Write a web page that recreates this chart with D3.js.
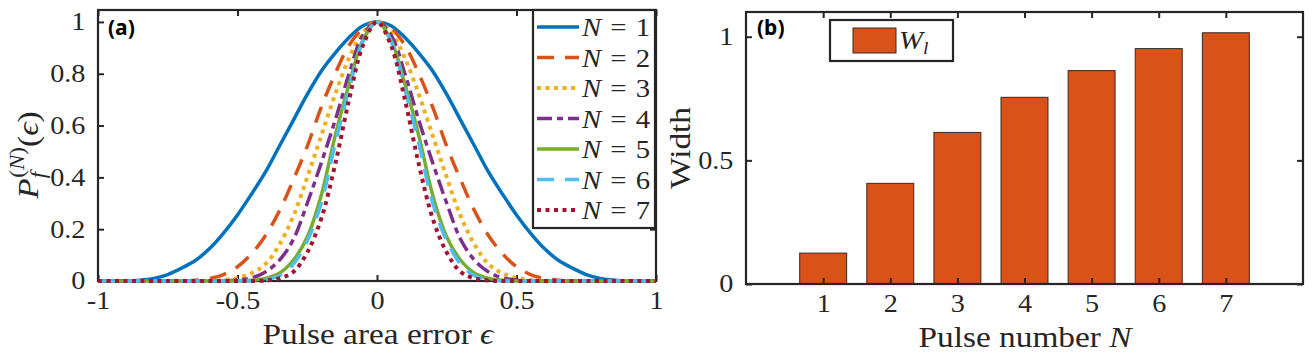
<!DOCTYPE html>
<html>
<head>
<meta charset="utf-8">
<script src="https://cdn.jsdelivr.net/npm/d3@7"></script>
<style>
  body { margin: 0; background: #fff; }
  svg { display: block; }
</style>
</head>
<body>
<svg id="chart" width="1314" height="360"></svg>
<script>
// ---- data ----
var eps = [-1,-0.95,-0.9,-0.85,-0.8,-0.75,-0.7,-0.65,-0.6,-0.55,-0.5,-0.45,-0.4,-0.35,-0.3,-0.25,-0.2,-0.15,-0.1,-0.05,
           0,0.05,0.1,0.15,0.2,0.25,0.3,0.35,0.4,0.45,0.5,0.55,0.6,0.65,0.7,0.75,0.8,0.85,0.9,0.95,1];

var pN1 = [0,0,0,0.003,0.01,0.025,0.05,0.08,0.125,0.185,0.255,0.335,0.42,0.52,0.62,0.72,0.81,0.88,0.94,0.985,
           1,0.985,0.94,0.88,0.81,0.72,0.62,0.52,0.42,0.335,0.255,0.185,0.125,0.08,0.05,0.025,0.01,0.003,0,0,0];
var pN2 = [0,0,0,0,0,0,0,0.003,0.01,0.025,0.055,0.105,0.175,0.27,0.39,0.52,0.67,0.8,0.91,0.975,
           1,0.975,0.91,0.8,0.67,0.52,0.39,0.27,0.175,0.105,0.055,0.025,0.01,0.003,0,0,0,0,0,0,0];
var pN3 = [0,0,0,0,0,0,0,0,0,0.004,0.012,0.03,0.065,0.14,0.25,0.4,0.56,0.72,0.86,0.96,
           1,0.96,0.86,0.72,0.56,0.4,0.25,0.14,0.065,0.03,0.012,0.004,0,0,0,0,0,0,0,0,0];
var pN4 = [0,0,0,0,0,0,0,0,0,0,0.004,0.012,0.035,0.08,0.16,0.3,0.455,0.62,0.8,0.95,
           1,0.95,0.8,0.62,0.455,0.3,0.16,0.08,0.035,0.012,0.004,0,0,0,0,0,0,0,0,0,0];
var pN5 = [0,0,0,0,0,0,0,0,0,0,0,0.003,0.01,0.03,0.08,0.17,0.33,0.56,0.76,0.93,
           1,0.93,0.76,0.56,0.33,0.17,0.08,0.03,0.01,0.003,0,0,0,0,0,0,0,0,0,0,0];
var pN6 = [0,0,0,0,0,0,0,0,0,0,0,0,0.005,0.02,0.065,0.155,0.3,0.53,0.74,0.925,
           1,0.925,0.74,0.53,0.3,0.155,0.065,0.02,0.005,0,0,0,0,0,0,0,0,0,0,0,0];
var pN7 = [0,0,0,0,0,0,0,0,0,0,0,0,0.002,0.01,0.035,0.11,0.24,0.45,0.7,0.91,
           1,0.91,0.7,0.45,0.24,0.11,0.035,0.01,0.002,0,0,0,0,0,0,0,0,0,0,0,0];

var seriesNames = ['1','2','3','4','5','6','7'];
var seriesVals = [pN1,pN2,pN3,pN4,pN5,pN6,pN7];
var colors = ['#0072BD','#D95319','#EDB120','#7E2F8E','#77AC30','#4DBEEE','#A2142F'];
var dashes = [null,'17,11','4,4.5','15,5,6,5',null,'17,11','4,4.5'];

var pulseN = [1,2,3,4,5,6,7];
var widthW = [0.125,0.407,0.613,0.755,0.863,0.952,1.016];

var xTicksA = [-1,-0.5,0,0.5,1];
var yTicksA = [0,0.2,0.4,0.6,0.8,1];
var yTicksB = [0,0.5,1];

// ---- layout ----
var svg = d3.select('#chart');
var ink = '#262626', SX = 1.15, tickFs = 24.5, labFs = 29;
var SERIF = '"Liberation Serif", "Times New Roman", serif';
var SANS = '"Noto Sans", "DejaVu Sans", sans-serif';

function stretch(sel){ sel.attr('transform', 'scale(' + SX + ',1)'); }

function frame(g, x, y, xt, yt, xfmt, yfmt){
  var r = x.range(), b = y.range();
  g.append('g').attr('transform','translate(0,' + b[0] + ')')
    .call(d3.axisBottom(x).tickValues(xt).tickSizeInner(-6).tickSizeOuter(0).tickPadding(11).tickFormat(xfmt));
  g.append('g').attr('transform','translate(0,' + b[1] + ')')
    .call(d3.axisTop(x).tickValues(xt).tickSizeInner(-6).tickSizeOuter(0).tickFormat(''));
  g.append('g').attr('transform','translate(' + r[0] + ',0)')
    .call(d3.axisLeft(y).tickValues(yt).tickSizeInner(-6).tickSizeOuter(0).tickPadding(11).tickFormat(yfmt));
  g.append('g').attr('transform','translate(' + r[1] + ',0)')
    .call(d3.axisRight(y).tickValues(yt).tickSizeInner(-6).tickSizeOuter(0).tickFormat(''));
  g.selectAll('.domain').remove();
  g.selectAll('.tick line').attr('stroke', ink).attr('stroke-width', 2);
  g.selectAll('.tick text').attr('font-size', tickFs).attr('fill', ink)
    .attr('font-family', SERIF).call(stretch);
  g.append('rect').attr('x', r[0]).attr('y', b[1]).attr('width', r[1]-r[0]).attr('height', b[0]-b[1])
    .attr('fill','none').attr('stroke', ink).attr('stroke-width', 2.2);
}

function stext(g, fs, tr){
  return g.append('text').attr('font-family', SERIF).attr('font-size', fs).attr('fill', ink)
    .attr('transform', tr + ' scale(' + SX + ',1)');
}

// ---- panel (a) ----
var xa = d3.scaleLinear().domain([-1,1]).range([98,656]);
var ya = d3.scaleLinear().domain([0,1.046]).range([281,10]);
var ga = svg.append('g');
frame(ga, xa, ya, xTicksA, yTicksA, function(d){ return String(d); }, function(d){ return String(d); });

var line = d3.line().x(function(d,i){ return xa(eps[i]); }).y(function(d){ return ya(Math.max(0, d)); })
  .curve(d3.curveCatmullRom.alpha(0.5));
seriesVals.forEach(function(vals, k){
  ga.append('path').datum(vals).attr('d', line).attr('fill','none')
    .attr('stroke', colors[k]).attr('stroke-width', dashes[k]==='4,4.5' ? 4 : 3.5)
    .attr('stroke-dasharray', dashes[k]);
});

// legend (a)
var lg = ga.append('g');
lg.append('rect').attr('x',533).attr('y',10).attr('width',122).attr('height',218)
  .attr('fill','#fff').attr('stroke', ink).attr('stroke-width',2.2);
seriesNames.forEach(function(n, k){
  var yy = 27 + k*30.5;
  lg.append('line').attr('x1',537).attr('x2',579).attr('y1',yy).attr('y2',yy)
    .attr('stroke', colors[k]).attr('stroke-width', dashes[k]==='4,4.5' ? 4 : 3.5)
    .attr('stroke-dasharray', dashes[k]);
  var t = stext(lg, 25, 'translate(582,' + (yy+9) + ')');
  t.append('tspan').attr('font-style','italic').text('N');
  t.append('tspan').attr('dx',8).text('=');
  t.append('tspan').attr('dx',8).text(n);
});

ga.append('text').attr('x',108).attr('y',35).attr('font-family', SANS)
  .attr('font-weight','bold').attr('font-size',21).attr('fill','#000').text('(a)');

var xl = stext(ga, labFs, 'translate(378,344)').attr('text-anchor','middle');
xl.append('tspan').text('Pulse area error ');
xl.append('tspan').attr('font-style','italic').text('ϵ');

var yl = stext(ga, labFs, 'translate(38,155) rotate(-90)').attr('text-anchor','middle');
yl.append('tspan').attr('font-style','italic').text('P');
yl.append('tspan').attr('font-style','italic').attr('font-size',20).attr('dy',7).text('f');
yl.append('tspan').attr('font-size',20).attr('dx',-5).attr('dy',-21).text('(');
yl.append('tspan').attr('font-size',20).attr('font-style','italic').text('N');
yl.append('tspan').attr('font-size',20).text(')');
yl.append('tspan').attr('dy',14).text('(');
yl.append('tspan').attr('font-style','italic').text('ϵ');
yl.append('tspan').text(')');

// ---- panel (b) ----
var xb = d3.scaleLinear().domain([-0.15,8.15]).range([746,1303]);
var yb = d3.scaleLinear().domain([0,1.1]).range([284,12]);
var gb = svg.append('g');
var bw = (xb(1) - xb(0)) * 0.7;
gb.selectAll('rect.bar').data(pulseN).enter().append('rect').attr('class','bar')
  .attr('x', function(d){ return xb(d) - bw/2; })
  .attr('y', function(d,i){ return yb(widthW[i]); })
  .attr('width', bw)
  .attr('height', function(d,i){ return yb(0) - yb(widthW[i]); })
  .attr('fill','#D95319').attr('stroke','#3a2a22').attr('stroke-width',1);
frame(gb, xb, yb, pulseN, yTicksB, function(d){ return String(d); }, function(d){ return String(d); });

var lb = gb.append('g');
lb.append('rect').attr('x',830).attr('y',20).attr('width',123).attr('height',41)
  .attr('fill','#fff').attr('stroke', ink).attr('stroke-width',2.2);
lb.append('rect').attr('x',853).attr('y',28).attr('width',43).attr('height',25)
  .attr('fill','#D95319').attr('stroke','#3a2a22').attr('stroke-width',1);
var wl = stext(lb, 25, 'translate(899,49)');
wl.append('tspan').attr('font-style','italic').text('W');
wl.append('tspan').attr('font-style','italic').attr('font-size',17).attr('dy',5).text('l');

gb.append('text').attr('x',757).attr('y',35).attr('font-family', SANS)
  .attr('font-weight','bold').attr('font-size',21).attr('fill','#000').text('(b)');

var xl2 = stext(gb, labFs, 'translate(1025,347)').attr('text-anchor','middle');
xl2.append('tspan').text('Pulse number ');
xl2.append('tspan').attr('font-style','italic').text('N');

stext(gb, labFs, 'translate(690,148) rotate(-90)').attr('text-anchor','middle').text('Width');
</script>
</body>
</html>
